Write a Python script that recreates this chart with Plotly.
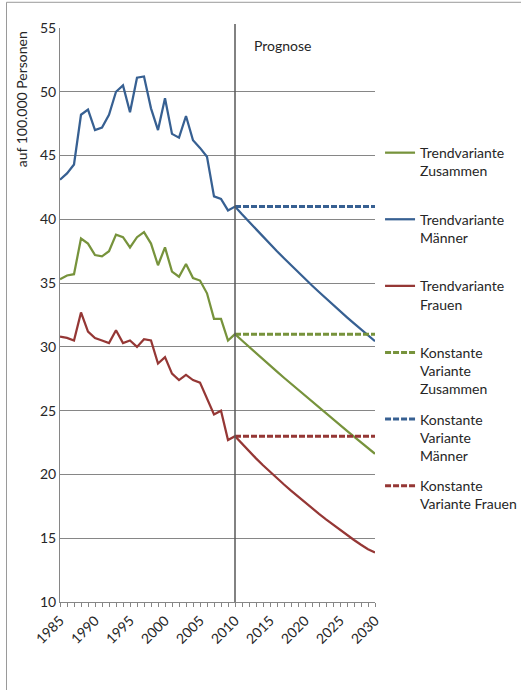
import plotly.graph_objects as go

# Observed values 1985-2010 (per 100,000 people)
years_hist = list(range(1985, 2011))
zusammen_hist = [35.3, 35.6, 35.7, 38.5, 38.1, 37.2, 37.1, 37.5, 38.8, 38.6,
                 37.8, 38.6, 39.0, 38.1, 36.4, 37.8, 35.9, 35.5, 36.5, 35.4,
                 35.2, 34.2, 32.2, 32.2, 30.5, 31.0]
maenner_hist = [43.1, 43.6, 44.3, 48.2, 48.6, 47.0, 47.2, 48.2, 50.0, 50.5,
                48.4, 51.1, 51.2, 48.7, 47.0, 49.5, 46.7, 46.4, 48.1, 46.2,
                45.6, 44.9, 41.8, 41.6, 40.7, 41.0]
frauen_hist = [30.8, 30.7, 30.5, 32.7, 31.2, 30.7, 30.5, 30.3, 31.3, 30.3,
               30.5, 30.0, 30.6, 30.5, 28.7, 29.2, 27.9, 27.4, 27.8, 27.4,
               27.2, 26.0, 24.7, 25.0, 22.7, 23.0]

# Forecast 2010-2030
years_prog = list(range(2010, 2031))
zusammen_trend = [31.0, 30.50, 30.00, 29.51, 29.02, 28.54, 28.06, 27.58, 27.11, 26.64,
                  26.17, 25.70, 25.24, 24.78, 24.32, 23.86, 23.41, 22.96, 22.51, 22.06, 21.62]
maenner_trend = [41.0, 40.39, 39.80, 39.21, 38.63, 38.06, 37.50, 36.95, 36.40, 35.86,
                 35.33, 34.81, 34.30, 33.79, 33.29, 32.80, 32.32, 31.84, 31.37, 30.91, 30.45]
frauen_trend = [23.0, 22.40, 21.82, 21.26, 20.72, 20.20, 19.70, 19.21, 18.73, 18.26,
                17.80, 17.35, 16.91, 16.48, 16.06, 15.65, 15.25, 14.86, 14.49, 14.14, 13.89]
zusammen_konst = [31.0] * 21
maenner_konst = [41.0] * 21
frauen_konst = [23.0] * 21

GREEN = "#77933C"
BLUE = "#376092"
RED = "#953735"
GRID = "#868686"
TEXT = "#262626"
FONT = "Lato, 'Open Sans', sans-serif"

fig = go.Figure()

series = [
    ("Trendvariante<br>Zusammen<br> ", years_hist + years_prog[1:], zusammen_hist + zusammen_trend[1:], GREEN, "solid"),
    ("Trendvariante<br>Männer<br> ", years_hist + years_prog[1:], maenner_hist + maenner_trend[1:], BLUE, "solid"),
    ("Trendvariante<br>Frauen<br> ", years_hist + years_prog[1:], frauen_hist + frauen_trend[1:], RED, "solid"),
    ("Konstante<br>Variante<br>Zusammen", years_prog, zusammen_konst, GREEN, "6px,2px"),
    ("Konstante<br>Variante<br>Männer", years_prog, maenner_konst, BLUE, "6px,2px"),
    ("Konstante<br>Variante Frauen", years_prog, frauen_konst, RED, "6px,2px"),
]

for i, (name, xs, ys, color, dash) in enumerate(series):
    fig.add_trace(go.Scatter(
        x=xs, y=ys, name=name, mode="lines",
        legendgroup=f"g{i}",
        line=dict(color=color, width=2.25 if dash == "solid" else 3, dash=dash),
    ))

# Forecast divider
fig.add_shape(type="line", xref="x", yref="paper", x0=2010, x1=2010, y0=0, y1=1.007,
              line=dict(color="#595959", width=1.5))
# Outer frame (left and top edges)
fig.add_shape(type="path", xref="paper", yref="paper",
              path="M -0.1698,-0.2 L -0.1698,1.0448 L 1.6,1.0448",
              line=dict(color="#9a9a9a", width=1))

fig.add_annotation(text="Prognose", xref="x", yref="paper", x=2012.4, y=0.970,
                   xanchor="left", yanchor="middle", showarrow=False,
                   font=dict(family=FONT, size=14, color=TEXT))
fig.add_annotation(text="auf 100.000 Personen", xref="paper", yref="paper",
                   x=-0.122, y=0.997, xanchor="center", yanchor="top",
                   textangle=-90, showarrow=False,
                   font=dict(family=FONT, size=14, color=TEXT))

fig.update_layout(
    template="none",
    width=521, height=690, autosize=False,
    paper_bgcolor="white", plot_bgcolor="white",
    margin=dict(l=60, r=146, t=28, b=88, autoexpand=False),
    font=dict(family=FONT, size=14, color=TEXT),
    showlegend=True,
    legend=dict(
        x=1.016, xanchor="left", y=0.81, yanchor="top",
        valign="top", tracegroupgap=9,
        font=dict(family=FONT, size=14, color=TEXT),
        bgcolor="rgba(0,0,0,0)",
    ),
    xaxis=dict(
        range=[1985, 2030], tickmode="array", automargin=False,
        tickvals=[1985, 1990, 1995, 2000, 2005, 2010, 2015, 2020, 2025, 2030],
        tickangle=-45, ticks="outside", ticklen=4, tickcolor=GRID,
        minor=dict(dtick=1, tick0=1985, ticks="outside", ticklen=4, tickcolor=GRID, showgrid=False),
        showgrid=False, showline=True, linecolor=GRID, linewidth=1,
        zeroline=False, tickfont=dict(family=FONT, size=14, color=TEXT),
    ),
    yaxis=dict(
        range=[10, 55], dtick=5, tick0=10, automargin=False,
        showgrid=True, gridcolor=GRID, gridwidth=1,
        showline=True, linecolor=GRID, linewidth=1,
        ticks="", zeroline=False,
        tickfont=dict(family=FONT, size=14, color=TEXT),
    ),
)

# drop the default page margin so the figure sits at the window origin
fig.write_html("out.html", config={"displayModeBar": False},
               post_script="document.body.style.margin='0';")
